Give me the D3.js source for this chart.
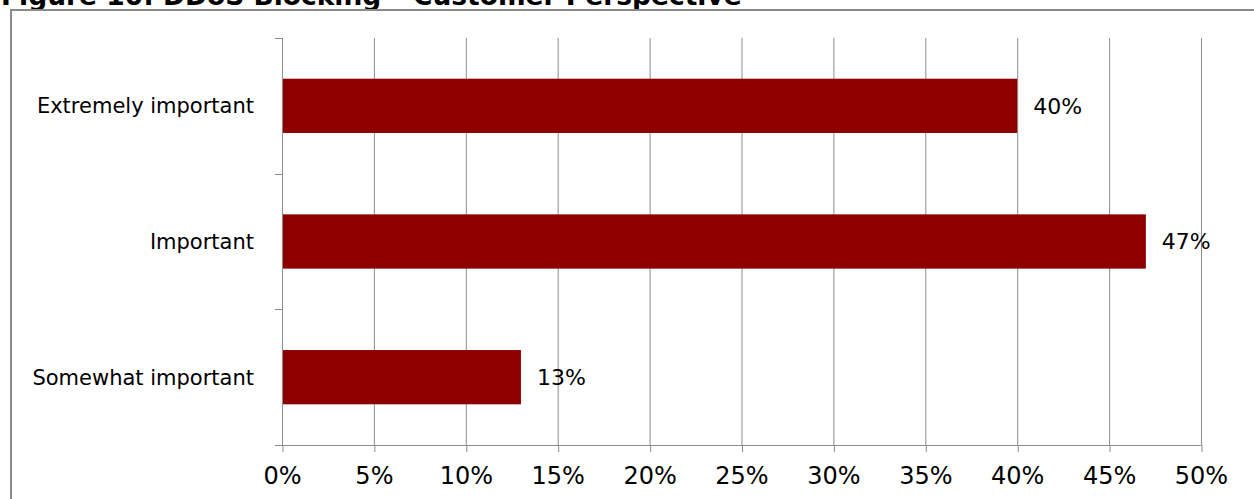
<!DOCTYPE html>
<html>
<head>
<meta charset="utf-8">
<script src="https://cdn.jsdelivr.net/npm/d3@7"></script>
<style>
  html, body { margin: 0; padding: 0; background: #fff; }
  svg { display: block; }
</style>
</head>
<body>
<svg id="chart" width="1254" height="499"></svg>
<script>
// Survey responses: importance of DDoS blocking
const categories = ["Extremely important", "Important", "Somewhat important"];
const shares = [40, 47, 13];
const tickValues = [0, 5, 10, 15, 20, 25, 30, 35, 40, 45, 50];
const title = "Figure 10: DDoS Blocking \u2013 Customer Perspective";

const W = 1254, H = 499;
const plot = { left: 282, right: 1201, top: 38, bottom: 445 };
const font = "Verdana, 'DejaVu Sans', sans-serif";
const gridColor = "#8c8c8c";
const barColor = "#8e0000";

const svg = d3.select("#chart");

// Figure title (sits partly above the visible frame)
svg.append("text")
  .attr("x", 1)
  .attr("y", 5)
  .attr("font-family", font)
  .attr("font-weight", "bold")
  .attr("font-size", 26.5)
  .attr("fill", "#000")
  .text(title);

// Outer chart frame
svg.append("rect")
  .attr("x", 11)
  .attr("y", 10)
  .attr("width", W + 20)
  .attr("height", H + 20)
  .attr("fill", "none")
  .attr("stroke", "#8a8a8a")
  .attr("stroke-width", 2);

const x = d3.scaleLinear().domain([0, 50]).range([plot.left, plot.right]);
const y = d3.scaleBand()
  .domain(categories)
  .range([plot.top, plot.bottom])
  .paddingInner(0.6)
  .paddingOuter(0.3);

// Value axis: tick marks below the baseline and percentage labels
const xAxis = svg.append("g")
  .attr("transform", `translate(0,${plot.bottom})`)
  .call(d3.axisBottom(x)
    .tickValues(tickValues)
    .tickSize(7)
    .tickFormat(d => d + "%"));
xAxis.select(".domain").remove();
xAxis.selectAll(".tick line")
  .attr("stroke", gridColor)
  .attr("transform", "translate(0.5,0)");
xAxis.selectAll(".tick text")
  .attr("font-family", font)
  .attr("font-size", 24)
  .attr("fill", "#000")
  .attr("y", 22);

// Vertical gridlines
svg.append("g")
  .selectAll("line")
  .data(tickValues)
  .join("line")
  .attr("x1", d => x(d) + 0.5)
  .attr("x2", d => x(d) + 0.5)
  .attr("y1", plot.top)
  .attr("y2", plot.bottom)
  .attr("stroke", gridColor)
  .attr("stroke-width", 1);

// Bottom axis baseline
svg.append("line")
  .attr("x1", plot.left - 7)
  .attr("x2", plot.right + 0.5)
  .attr("y1", plot.bottom + 0.5)
  .attr("y2", plot.bottom + 0.5)
  .attr("stroke", gridColor);

// Category axis: line with ticks at category boundaries
const step = y.step();
const boundaries = d3.range(categories.length + 1).map(i => plot.top + i * step);
svg.append("line")
  .attr("x1", plot.left + 0.5)
  .attr("x2", plot.left + 0.5)
  .attr("y1", plot.top)
  .attr("y2", plot.bottom)
  .attr("stroke", gridColor);
svg.append("g")
  .selectAll("line")
  .data(boundaries)
  .join("line")
  .attr("x1", plot.left - 7)
  .attr("x2", plot.left)
  .attr("y1", d => Math.round(d) + 0.5)
  .attr("y2", d => Math.round(d) + 0.5)
  .attr("stroke", gridColor);

// Category labels
svg.append("g")
  .selectAll("text")
  .data(categories)
  .join("text")
  .attr("x", plot.left - 28)
  .attr("y", d => y(d) + y.bandwidth() / 2)
  .attr("dy", "0.35em")
  .attr("text-anchor", "end")
  .attr("font-family", font)
  .attr("font-size", 21)
  .attr("fill", "#000")
  .text(d => d);

// Bars
svg.append("g")
  .selectAll("rect")
  .data(categories)
  .join("rect")
  .attr("x", x(0) + 1)
  .attr("y", d => y(d))
  .attr("width", (d, i) => x(shares[i]) - x(0) - 1)
  .attr("height", y.bandwidth())
  .attr("fill", barColor);

// Value labels
svg.append("g")
  .selectAll("text")
  .data(categories)
  .join("text")
  .attr("x", (d, i) => x(shares[i]) + 16)
  .attr("y", d => y(d) + y.bandwidth() / 2)
  .attr("dy", "0.35em")
  .attr("font-family", font)
  .attr("font-size", 22)
  .attr("fill", "#000")
  .text((d, i) => shares[i] + "%");
</script>
</body>
</html>
